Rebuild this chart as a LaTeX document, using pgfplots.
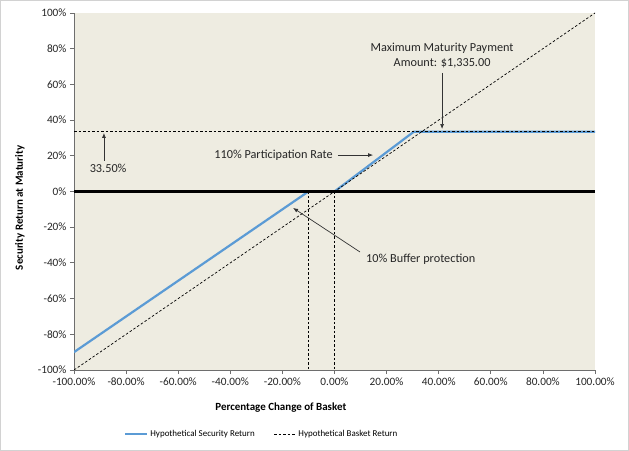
\documentclass[border=0pt]{standalone}
\usepackage{fontspec}
\setmainfont{Carlito}
\usepackage{pgfplots}
\pgfplotsset{compat=1.18}
\usetikzlibrary{arrows.meta}
\definecolor{bgbeige}{RGB}{238,236,225}
\definecolor{secblue}{RGB}{91,155,213}
\definecolor{axgray}{RGB}{110,110,110}
\newcommand\annfont{\fontsize{12.3}{14.5}\selectfont}
\begin{document}
\begin{tikzpicture}
\fill[white] (-74bp,-81bp) rectangle (555bp,370bp);
\path[use as bounding box] (-74bp,-81bp) rectangle (555bp,370bp);
\begin{axis}[
  at={(0,0)}, anchor=south west,
  scale only axis, width=521bp, height=357bp,
  xmin=-100, xmax=100, ymin=-100, ymax=100,
  axis x line=bottom, axis y line=left,
  axis line style={-, draw=axgray, line width=0.8bp},
  axis background/.style={fill=bgbeige},
  xtick={-100,-80,...,100}, ytick={-100,-80,...,100},
  /pgf/number format/assume math mode=true,
  xticklabel={\pgfmathprintnumber[fixed,fixed zerofill,precision=2]{\tick}\%},
  yticklabel={\pgfmathprintnumber[fixed,precision=0]{\tick}\%},
  ticklabel style={font=\fontsize{11.3}{13}\selectfont, text=black!85},
  tick style={draw=axgray, line width=0.8bp},
  tick align=outside, major tick length=4bp,
  xlabel={Percentage Change of Basket},
  ylabel={Security Return at Maturity},
  xlabel style={at={(axis description cs:0.397,-0.104)}, anchor=center, font=\bfseries\fontsize{11}{13}\selectfont},
  ylabel style={at={(axis description cs:-0.104,0.454)}, anchor=center, font=\bfseries\fontsize{11}{13}\selectfont},
  legend columns=2,
  legend style={at={(axis description cs:0.096,-0.179)}, anchor=west, draw=none, fill=none,
    font=\fontsize{9}{11}\selectfont, inner sep=0pt,
    /tikz/every even column/.append style={column sep=17bp}},
  legend image code/.code={\draw[#1] plot coordinates {(0bp,0bp) (22bp,0bp)};},
]
% Hypothetical Security Return
\addplot[secblue, line width=2.2bp, line join=round] coordinates {
  (-100,-90) (-10,0) (0,0) (30.4545,33.5) (100,33.5)};
\addlegendentry{Hypothetical Security Return}
% Hypothetical Basket Return
\addplot[black, line width=0.7bp, dash pattern=on 2.5bp off 2bp] coordinates {
  (-100,-100) (100,100)};
\addlegendentry{Hypothetical Basket Return}
% Reference lines
\addplot[forget plot, black, line width=0.7bp, dash pattern=on 2.5bp off 2bp] coordinates {(-100,33.5) (100,33.5)};
\addplot[forget plot, black, line width=0.7bp, dash pattern=on 2.5bp off 2bp] coordinates {(-10,0) (-10,-100)};
\addplot[forget plot, black, line width=0.7bp, dash pattern=on 2.5bp off 2bp] coordinates {(0,0) (0,-100)};
\addplot[forget plot, black, line width=2.2bp] coordinates {(-100,0) (100,0)};
% Annotations
\draw[black!80, line width=0.7bp, -{Latex[length=5bp,width=4bp]}] (axis cs:-88.5,17.1) -- (axis cs:-88.5,32.8);
\node[font=\annfont, text=black!85] at (axis cs:-86.9,13.2) {33.50\%};
\node[font=\annfont, text=black!85, anchor=east, inner sep=0pt] at (axis cs:-0.6,20.4) {110\% Participation Rate};
\draw[black!80, line width=0.7bp, -{Latex[length=5bp,width=4bp]}] (axis cs:1.3,20.4) -- (axis cs:14.8,20.4);
\node[font=\annfont, text=black!85, align=center, inner sep=0pt] at (axis cs:41.3,76.2) {Maximum Maturity Payment\\Amount: \$1,335.00};
\draw[black!80, line width=0.7bp, -{Latex[length=5bp,width=4bp]}] (axis cs:41.3,66.4) -- (axis cs:41.3,35.0);
\node[font=\annfont, text=black!85, anchor=west, inner sep=0pt] at (axis cs:12.1,-37.8) {10\% Buffer protection};
\draw[black!80, line width=0.7bp, -{Latex[length=5bp,width=4bp]}] (axis cs:9.8,-33.9) -- (axis cs:-15.9,-9.2);
\end{axis}
\draw[gray!35, line width=0.8bp] (-73.6bp,-80.6bp) rectangle (554.6bp,369.6bp);
\end{tikzpicture}
\end{document}
